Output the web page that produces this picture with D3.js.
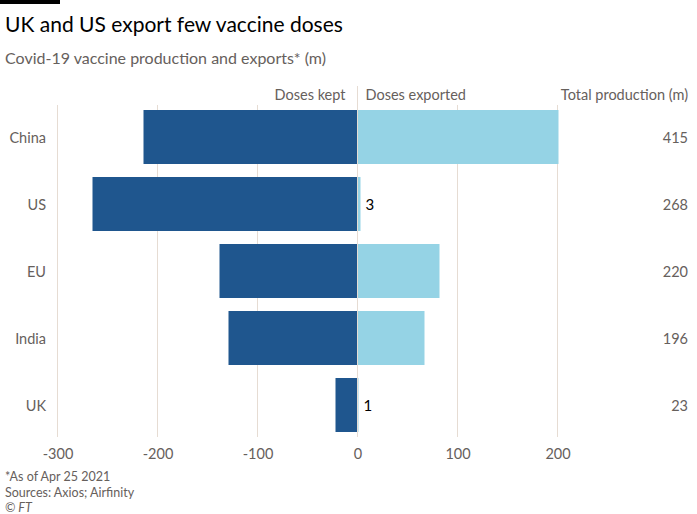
<!DOCTYPE html>
<html><head><meta charset="utf-8">
<script src="https://cdn.jsdelivr.net/npm/d3@7"></script>
<style>
body{margin:0;background:#fff;}
svg{display:block;font-family:Lato,"Open Sans",sans-serif;}
</style></head>
<body>
<svg id="c" width="697" height="514"></svg>
<script>
const categories = ["China","US","EU","India","UK"];
const dosesKept = [214, 265, 138, 129, 22];
const dosesExported = [201, 3, 82, 67, 1];
const totalProduction = [415, 268, 220, 196, 23];
const xTicks = [-300,-200,-100,0,100,200];

const svg = d3.select("#c");
const dark = "#1f568e", light = "#95d3e5", grid = "#e6dcd3", grey = "#66605c";

svg.append("rect").attr("x",0).attr("y",0).attr("width",60).attr("height",4).attr("fill","#000");
svg.append("text").attr("x",5).attr("y",32).attr("font-size",21).attr("fill","#000").text("UK and US export few vaccine doses");
svg.append("text").attr("x",5).attr("y",64).attr("font-size",16).attr("fill",grey).text("Covid-19 vaccine production and exports* (m)");

const x = d3.scaleLinear().domain([-300,200]).range([57.5,557.5]);
const y = d3.scaleBand().domain(categories).range([103.3,438.7]).paddingInner(0.194).paddingOuter(0.1);

svg.append("g").selectAll("line").data(xTicks.filter(d=>d!==0)).join("line")
  .attr("x1",d=>x(d)).attr("x2",d=>x(d)).attr("y1",105).attr("y2",437)
  .attr("stroke",grid).attr("stroke-width",1);

svg.append("g").selectAll("rect").data(categories).join("rect")
  .attr("x",(d,i)=>x(-dosesKept[i])).attr("width",(d,i)=>x(0)-x(-dosesKept[i]))
  .attr("y",d=>y(d)).attr("height",y.bandwidth()).attr("fill",dark);
svg.append("g").selectAll("rect").data(categories).join("rect")
  .attr("x",x(0)).attr("width",(d,i)=>x(dosesExported[i])-x(0))
  .attr("y",d=>y(d)).attr("height",y.bandwidth()).attr("fill",light);

svg.append("line").attr("x1",x(0)).attr("x2",x(0)).attr("y1",86).attr("y2",437).attr("stroke",grid).attr("stroke-width",1);

svg.append("g").selectAll("text").data(categories.filter((d,i)=>dosesExported[i]<10)).join("text")
  .attr("x",d=>x(dosesExported[categories.indexOf(d)])+5)
  .attr("y",d=>y(d)+y.bandwidth()/2+6)
  .attr("font-size",15).attr("fill","#000")
  .text(d=>dosesExported[categories.indexOf(d)]);

svg.append("g").selectAll("text").data(categories).join("text")
  .attr("x",46).attr("y",d=>y(d)+y.bandwidth()/2+6).attr("text-anchor","end")
  .attr("font-size",14.5).attr("fill",grey).text(d=>d);

svg.append("g").selectAll("text").data(categories).join("text")
  .attr("x",688).attr("y",d=>y(d)+y.bandwidth()/2+6).attr("text-anchor","end")
  .attr("font-size",14.5).attr("fill",grey).text((d,i)=>totalProduction[i]);

svg.append("text").attr("x",x(0)-12).attr("y",100).attr("text-anchor","end").attr("font-size",14.5).attr("fill",grey).text("Doses kept");
svg.append("text").attr("x",x(0)+8).attr("y",100).attr("font-size",14.5).attr("fill",grey).text("Doses exported");
svg.append("text").attr("x",688).attr("y",100).attr("text-anchor","end").attr("font-size",14.5).attr("fill",grey).text("Total production (m)");

const ax = svg.append("g").attr("transform","translate(0,446)")
  .call(d3.axisBottom(x).tickValues(xTicks).tickSize(0).tickFormat(d=>String(d)));
ax.select(".domain").remove();
ax.selectAll("text").attr("font-size",14.5).attr("fill",grey).attr("font-family","Lato,'Open Sans',sans-serif").attr("dy","0.71em");

const fn = ["*As of Apr 25 2021","Sources: Axios; Airfinity"];
svg.append("g").selectAll("text").data(fn).join("text")
  .attr("x",5).attr("y",(d,i)=>481+i*15.5).attr("font-size",12.5).attr("fill",grey).text(d=>d);
svg.append("text").attr("x",5).attr("y",512).attr("font-size",12.5).attr("fill",grey).attr("font-style","italic").text("© FT");
</script>
</body></html>
